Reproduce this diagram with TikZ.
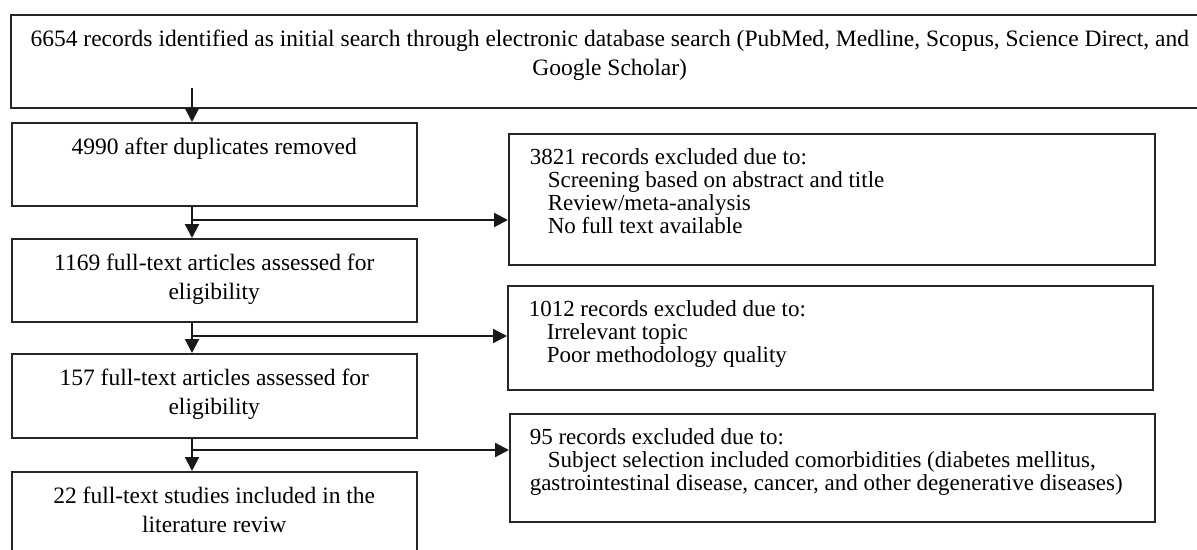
\documentclass[tikz,border=0pt]{standalone}
\usepackage{fontspec}
\setmainfont{Liberation Serif}
\usetikzlibrary{arrows.meta,calc}
\newcommand{\tbox}[4]{\parbox[c][#1][t]{#2}{\vspace*{#3}#4}}
\tikzset{
  box/.style={draw=black!85, line width=1.5pt, inner sep=0pt, anchor=north west},
  arr/.style={draw=black!90, line width=2.2pt, -{Triangle[length=14pt,width=14pt]}},
  main/.style={font=\fontsize{23.5}{29}\selectfont},
  excl/.style={font=\fontsize{23}{23.3}\selectfont},
}
\begin{document}
\begin{tikzpicture}[x=1pt,y=-1pt]
\useasboundingbox (0,0) rectangle (1197,549);
\clip (0,0) rectangle (1197,549);
\fill[white] (0,0) rectangle (1197,549);
% left column
\node[box,main] (b1) at (10,14) {\tbox{93pt}{1198pt}{11pt}{\centering\strut 6654 records identified as initial search through electronic database search (PubMed, Medline, Scopus, Science Direct, and\\ \strut Google Scholar)}};
\node[box,main] (b2) at (11,122) {\tbox{83pt}{405pt}{11pt}{\centering\strut 4990 after duplicates removed}};
\node[box,main] (b3) at (11,238) {\tbox{83pt}{405pt}{11pt}{\centering\strut 1169 full-text articles assessed for\\ \strut eligibility}};
\node[box,main] (b4) at (11,353) {\tbox{84pt}{405pt}{11pt}{\centering\strut 157 full-text articles assessed for\\ \strut eligibility}};
\node[box,main] (b5) at (11,471) {\tbox{120pt}{405pt}{11pt}{\centering\strut 22 full-text studies included in the\\ \strut literature reviw}};
% exclusion column
\node[box,excl] (e1) at (508,133) {\tbox{131pt}{646pt}{14pt}{\raggedright\hspace*{21pt}\strut 3821 records excluded due to:\\ \hspace*{39pt}\strut Screening based on abstract and title\\ \hspace*{39pt}\strut Review/meta-analysis\\ \hspace*{39pt}\strut No full text available}};
\node[box,excl] (e2) at (507,285) {\tbox{104pt}{645pt}{14pt}{\raggedright\hspace*{21pt}\strut 1012 records excluded due to:\\ \hspace*{39pt}\strut Irrelevant topic\\ \hspace*{39pt}\strut Poor methodology quality}};
\node[box,excl] (e3) at (509,413) {\tbox{108pt}{645pt}{14pt}{\raggedright\hspace*{20pt}\strut 95 records excluded due to:\\ \hspace*{38pt}\strut Subject selection included comorbidities (diabetes mellitus,\\ \hspace*{20pt}\strut gastrointestinal disease, cancer, and other degenerative diseases)}};
% connectors
\coordinate (s0) at (192,88);
\coordinate (c1) at (192,220);
\coordinate (c2) at (192,336);
\coordinate (c3) at (192,450);
\draw[arr] (s0) -- (b2.north -| s0);
\draw[arr] (b2.south -| c1) -- (b3.north -| c1);
\draw[arr] (b3.south -| c2) -- (b4.north -| c2);
\draw[arr] (b4.south -| c3) -- (b5.north -| c3);
\draw[arr] (c1) -- (c1 -| e1.west);
\draw[arr] (c2) -- (c2 -| e2.west);
\draw[arr] (c3) -- (c3 -| e3.west);
\end{tikzpicture}
\end{document}
